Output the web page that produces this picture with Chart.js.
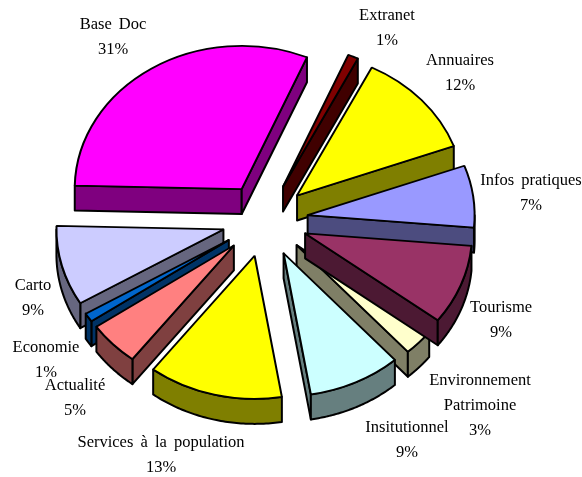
<!DOCTYPE html>
<html>
<head>
<meta charset="utf-8">
<style>
    html, body { margin: 0; padding: 0; background: #fff; }
    canvas { display: block; }
</style>
<script src="https://cdn.jsdelivr.net/npm/chart.js@4"></script>
</head>
<body>
<canvas id="camembert" width="582" height="477"></canvas>
<script>
// données, sens horaire en partant d'Extranet
const categories = ['Extranet', 'Annuaires', 'Infos pratiques', 'Tourisme', 'Environnement\nPatrimoine',
    'Insitutionnel', 'Services à la population', 'Actualité', 'Economie', 'Carto', 'Base Doc'];
const valeurs = [1, 12, 7, 9, 3, 9, 13, 5, 1, 9, 31];
const couleurs = ['#800000', '#FFFF00', '#9999FF', '#993366', '#FFFFCC',
    '#CCFFFF', '#FFFF00', '#FF8080', '#0066CC', '#CCCCFF', '#FF00FF'];

// position du centre des étiquettes (x, y de la première ligne)
const posEtiquettes = [[387, 16], [460, 61], [531, 181], [501, 308], [480, 381],
    [407, 428], [161, 443], [75, 386], [46, 348], [33, 286], [113, 25]];

// ordre de dessin, du fond vers l'avant
const ordreDessin = [10, 0, 1, 2, 4, 3, 5, 9, 8, 7, 6];

const ECRASEMENT = 0.857;
const EPAISSEUR = 25;
const INTERLIGNE = 25;
const ECLATEMENT = 43;
const TRAIT = 2;

function assombrir(hex) {
    const n = parseInt(hex.slice(1), 16);
    return 'rgb(' + ((n >> 16) >> 1) + ',' + (((n >> 8) & 255) >> 1) + ',' + ((n & 255) >> 1) + ')';
}

// flanc d'une part : murs radiaux et bord extérieur visibles
function dessinerFlanc(ctx, arc, couleur) {
    const p = arc.getProps(['x', 'y', 'startAngle', 'endAngle', 'outerRadius'], true);
    const mid = (p.startAngle + p.endAngle) / 2;
    const cx = p.x + Math.cos(mid) * ECLATEMENT;
    const cy = p.y + Math.sin(mid) * ECLATEMENT * ECRASEMENT;
    const R = p.outerRadius;
    const point = a => [cx + R * Math.cos(a), cy + R * Math.sin(a) * ECRASEMENT];

    ctx.save();
    ctx.fillStyle = assombrir(couleur);
    ctx.strokeStyle = '#000';
    ctx.lineWidth = TRAIT;
    ctx.lineJoin = 'round';

    const mur = a => {
        const b = point(a);
        ctx.beginPath();
        ctx.moveTo(cx, cy);
        ctx.lineTo(b[0], b[1]);
        ctx.lineTo(b[0], b[1] + EPAISSEUR);
        ctx.lineTo(cx, cy + EPAISSEUR);
        ctx.closePath();
        ctx.fill();
        ctx.stroke();
    };
    if (Math.cos(p.startAngle) < 0) mur(p.startAngle);
    if (Math.cos(p.endAngle) > 0) mur(p.endAngle);

    // bord extérieur : seulement la moitié basse de l'ellipse
    const tour = 2 * Math.PI;
    for (let k = -1; k <= 1; k++) {
        const a0 = Math.max(p.startAngle, k * tour);
        const a1 = Math.min(p.endAngle, k * tour + Math.PI);
        if (a1 <= a0) continue;
        ctx.beginPath();
        for (let i = 0; i <= 60; i++) {
            const q = point(a0 + (a1 - a0) * i / 60);
            ctx.lineTo(q[0], q[1]);
        }
        for (let i = 60; i >= 0; i--) {
            const q = point(a0 + (a1 - a0) * i / 60);
            ctx.lineTo(q[0], q[1] + EPAISSEUR);
        }
        ctx.closePath();
        ctx.fill();
        ctx.stroke();
    }
    ctx.restore();
}

const pie3d = {
    id: 'pie3d',
    beforeDatasetDraw(chart, args) {
        const ctx = chart.ctx;
        const arcs = args.meta.data;
        ordreDessin.forEach(i => {
            const arc = arcs[i];
            dessinerFlanc(ctx, arc, couleurs[i]);
            // dessus de la part : l'arc de Chart.js, écrasé en y et éclaté
            // (pas l'option offset, elle rogne les petites parts comme Extranet)
            const mid = (arc.startAngle + arc.endAngle) / 2;
            ctx.save();
            ctx.translate(arc.x, arc.y);
            ctx.scale(1, ECRASEMENT);
            ctx.translate(-arc.x + Math.cos(mid) * ECLATEMENT, -arc.y + Math.sin(mid) * ECLATEMENT);
            arc.draw(ctx);
            ctx.restore();
        });
        return false;
    },
    afterDraw(chart) {
        const ctx = chart.ctx;
        ctx.save();
        ctx.font = '16.5px "Liberation Serif"';
        ctx.wordSpacing = '3px';
        ctx.fillStyle = '#000';
        ctx.textAlign = 'center';
        ctx.textBaseline = 'middle';
        categories.forEach((nom, i) => {
            const lignes = nom.split('\n').concat(valeurs[i] + '%');
            lignes.forEach((t, j) => {
                ctx.fillText(t, posEtiquettes[i][0], posEtiquettes[i][1] + j * INTERLIGNE);
            });
        });
        ctx.restore();
    }
};

new Chart(document.getElementById('camembert'), {
    type: 'pie',
    data: {
        labels: categories,
        datasets: [{
            data: valeurs,
            backgroundColor: couleurs,
            borderColor: '#000',
            borderWidth: TRAIT
        }]
    },
    options: {
        responsive: false,
        animation: false,
        rotation: 23,
        radius: 167,
        layout: { padding: { right: 52, bottom: 37 } },
        plugins: { legend: { display: false }, tooltip: { enabled: false } }
    },
    plugins: [pie3d]
});
</script>
</body>
</html>
